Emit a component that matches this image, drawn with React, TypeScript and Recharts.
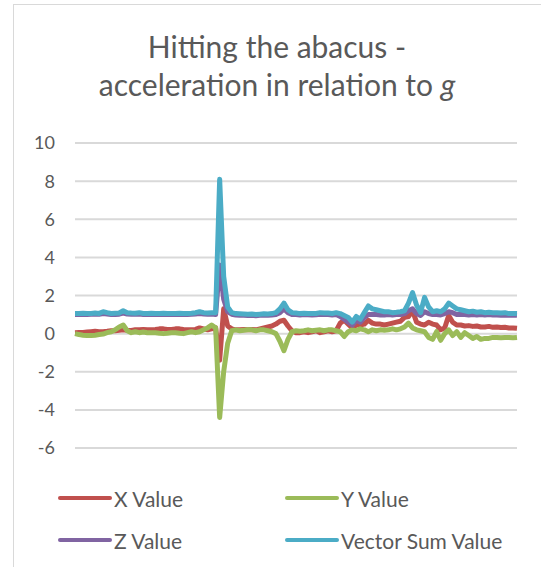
import { LineChart, Line, XAxis, YAxis, CartesianGrid } from "recharts"

// readings, one per sample (111 samples across the plot)
const xValue = [
  0.05, 0.06, 0.06, 0.08, 0.1, 0.12, 0.1, 0.1, 0.12, 0.15,
  0.15, 0.18, 0.2, 0.18, 0.17, 0.2, 0.2, 0.22, 0.2, 0.2,
  0.22, 0.25, 0.25, 0.22, 0.22, 0.25, 0.25, 0.22, 0.2, 0.2,
  0.22, 0.3, 0.25, 0.2, 0.25, 0.3, -1.4, 1.3, 0.4, 0.25,
  0.2, 0.2, 0.22, 0.2, 0.22, 0.2, 0.25, 0.3, 0.35, 0.4,
  0.5, 0.65, 0.7, 0.4, 0.15, 0.05, 0.05, 0.1, 0.05, 0.1,
  0.15, 0.05, 0.1, 0.15, 0.1, 0.15, 0.55, 0.7, 0.5, 0.3,
  0.45, 0.45, 0.5, 0.7, 0.55, 0.5, 0.5, 0.45, 0.5, 0.55,
  0.6, 0.65, 0.85, 0.9, 1.2, 0.6, 0.5, 0.45, 0.6, 0.5,
  0.45, 0.2, 0.3, 0.95, 0.6, 0.45, 0.45, 0.4, 0.42, 0.38,
  0.4, 0.35, 0.35, 0.38, 0.33, 0.35, 0.32, 0.33, 0.3, 0.3, 0.28,
]

const yValue = [
  0.0, -0.05, -0.08, -0.1, -0.1, -0.08, -0.05, -0.02, 0.05, 0.1,
  0.2, 0.35, 0.45, 0.15, 0.05, 0.1, 0.05, 0.08, 0.05, 0.05,
  0.05, 0.02, 0.0, 0.02, 0.05, 0.05, 0.02, 0.0, 0.05, 0.1,
  0.05, 0.1, 0.2, 0.3, 0.45, 0.3, -4.4, -2.0, -0.5, 0.15,
  0.2, 0.15, 0.18, 0.2, 0.2, 0.15, 0.2, 0.2, 0.15, 0.1,
  0.0, -0.4, -0.9, -0.3, 0.1, 0.15, 0.12, 0.15, 0.2, 0.15,
  0.18, 0.2, 0.15, 0.2, 0.2, 0.15, 0.1, -0.15, 0.1, 0.2,
  0.15, 0.25, 0.2, 0.1, 0.2, 0.15, 0.2, 0.18, 0.2, 0.25,
  0.2, 0.25, 0.35, 0.55, 0.3, 0.2, 0.15, 0.1, -0.2, -0.3,
  0.1, -0.35, 0.0, 0.2, -0.1, 0.1, -0.2, 0.05, -0.1, -0.25,
  -0.15, -0.3, -0.25, -0.25, -0.2, -0.2, -0.22, -0.2, -0.2, -0.22, -0.2,
]

const zValue = [
  1.0, 1.0, 1.02, 1.0, 1.01, 1.02, 1.01, 1.05, 1.03, 1.0,
  1.0, 1.02, 1.08, 1.03, 1.02, 1.01, 1.03, 1.0, 1.0, 1.01,
  1.0, 1.0, 1.01, 1.0, 1.0, 1.0, 1.01, 1.0, 1.0, 1.01,
  1.03, 1.05, 1.03, 1.02, 1.03, 1.0, 3.6, 1.8, 1.15, 1.02,
  0.98, 0.97, 0.96, 0.95, 0.96, 0.94, 0.96, 0.97, 0.96, 0.98,
  1.0, 1.1, 1.3, 1.1, 1.0, 1.0, 0.98, 1.0, 0.99, 0.98,
  0.99, 1.02, 1.0, 1.0, 0.98, 1.0, 0.9, 0.75, 0.6, 0.45,
  0.7, 0.6, 0.85, 1.0, 1.0, 1.0, 0.98, 0.98, 1.0, 0.98,
  1.0, 1.0, 1.05, 1.2, 1.3, 1.05, 0.95, 1.15, 1.05, 1.0,
  1.0, 0.98, 1.05, 1.15, 1.1, 1.0, 1.0, 1.0, 0.98, 1.0,
  0.98, 1.0, 0.98, 1.0, 0.98, 0.98, 0.97, 0.98, 0.96, 0.97, 0.96,
]

const vectorSum = [
  1.05, 1.05, 1.07, 1.05, 1.06, 1.08, 1.06, 1.15, 1.1, 1.06,
  1.07, 1.08, 1.2, 1.1, 1.08, 1.07, 1.1, 1.06, 1.06, 1.07,
  1.06, 1.06, 1.07, 1.06, 1.06, 1.06, 1.07, 1.06, 1.06, 1.07,
  1.1, 1.15, 1.1, 1.08, 1.1, 1.1, 8.1, 3.0, 1.4, 1.1,
  1.05, 1.04, 1.03, 1.02, 1.03, 1.0, 1.02, 1.04, 1.03, 1.05,
  1.1, 1.3, 1.6, 1.25, 1.1, 1.08, 1.05, 1.07, 1.06, 1.05,
  1.06, 1.1, 1.08, 1.08, 1.06, 1.1, 1.05, 0.95, 0.85, 0.6,
  0.9, 0.75, 1.1, 1.45, 1.3, 1.25, 1.2, 1.15, 1.15, 1.1,
  1.12, 1.15, 1.2, 1.6, 2.15, 1.5, 1.1, 1.9, 1.4, 1.15,
  1.2, 1.15, 1.3, 1.6, 1.45, 1.3, 1.25, 1.2, 1.15, 1.18,
  1.12, 1.15, 1.1, 1.12, 1.1, 1.1, 1.08, 1.1, 1.05, 1.06, 1.05,
]

const yTicks = [-6, -4, -2, 0, 2, 4, 6, 8, 10]

const series = [
  { key: "x", name: "X Value", color: "#c0504d" },
  { key: "y", name: "Y Value", color: "#9bbb59" },
  { key: "z", name: "Z Value", color: "#8064a2" },
  { key: "v", name: "Vector Sum Value", color: "#4bacc6" },
]

const data = xValue.map((_, i) => ({
  i,
  x: xValue[i],
  y: yValue[i],
  z: zValue[i],
  v: vectorSum[i],
}))

const font = "Lato, 'Open Sans', sans-serif"
const textColor = "#595959"

function LegendItem({ name, color, left, top }: { name: string; color: string; left: number; top: number }) {
  return (
    <div style={{ position: "absolute", left, top, display: "flex", alignItems: "center", height: 24 }}>
      <div style={{ width: 54, height: 4, borderRadius: 2, background: color }} />
      <span style={{ marginLeft: 2, fontSize: 21, color: textColor, fontFamily: font, whiteSpace: "nowrap" }}>{name}</span>
    </div>
  )
}

export default function App() {
  return (
    <div style={{ position: "fixed", left: 0, top: 0, width: 541, height: 567, background: "#fff", overflow: "hidden" }}>
      {/* chart border */}
      <div
        style={{
          position: "absolute",
          left: 13,
          top: 4,
          width: 560,
          height: 600,
          borderLeft: "1.5px solid #d9d9d9",
          borderTop: "1.5px solid #d9d9d9",
        }}
      />
      <LineChart
        width={541}
        height={567}
        data={data}
        margin={{ top: 143, right: 24, bottom: 119, left: 0 }}
        style={{ position: "absolute", left: 0, top: 0 }}
      >
        <CartesianGrid vertical={false} stroke="#d9d9d9" strokeWidth={2} />
        <XAxis dataKey="i" type="number" domain={[0, xValue.length - 1]} hide />
        <YAxis
          width={75}
          domain={[-6, 10]}
          ticks={yTicks}
          interval={0}
          axisLine={false}
          tickLine={false}
          tickSize={0}
          tickMargin={20}
          tick={{ fill: textColor, fontSize: 18, fontFamily: font }}
        />
        {series.map((s) => (
          <Line
            key={s.key}
            type="linear"
            dataKey={s.key}
            name={s.name}
            stroke={s.color}
            strokeWidth={5}
            strokeLinejoin="round"
            dot={false}
            isAnimationActive={false}
          />
        ))}
      </LineChart>
      <svg width={541} height={120} style={{ position: "absolute", left: 0, top: 0 }}>
        <text x={277} y={58} textAnchor="middle" fontSize={30} fill={textColor} fontFamily={font}>
          Hitting the abacus -
        </text>
        <text x={277} y={96} textAnchor="middle" fontSize={30} fill={textColor} fontFamily={font}>
          acceleration in relation to <tspan fontStyle="italic">g</tspan>
        </text>
      </svg>
      <LegendItem name={series[0].name} color={series[0].color} left={58} top={486} />
      <LegendItem name={series[1].name} color={series[1].color} left={285} top={486} />
      <LegendItem name={series[2].name} color={series[2].color} left={58} top={528} />
      <LegendItem name={series[3].name} color={series[3].color} left={285} top={528} />
    </div>
  )
}
